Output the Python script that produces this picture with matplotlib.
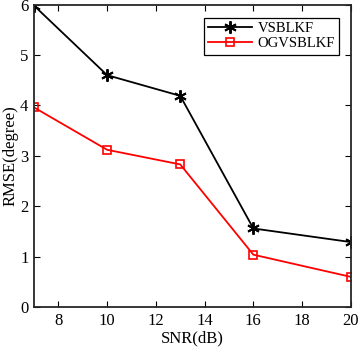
import numpy as np
import matplotlib.pyplot as plt

snr = [7, 10, 13, 16, 20]
vsblkf = [5.98, 4.60, 4.19, 1.56, 1.29]
ogvsblkf = [3.96, 3.12, 2.83, 1.04, 0.60]

plt.rcParams['font.family'] = 'Liberation Serif'
plt.rcParams['font.size'] = 12

fig = plt.figure(figsize=(3.58, 3.51), dpi=100)
ax = fig.add_axes([0.095, 0.125, 0.885, 0.862])

ax.plot(snr, vsblkf, color='black', lw=1.3, marker=(6, 2, 0), ms=9, mew=1.4, label='VSBLKF')
ax.plot(snr, ogvsblkf, color='red', lw=1.3, marker='s', ms=6, mfc='none', mew=1.2, label='OGVSBLKF')

ax.set_xlim(7, 20)
ax.set_ylim(0, 6)
ax.set_xticks([8, 10, 12, 14, 16, 18, 20])
ax.set_yticks([0, 1, 2, 3, 4, 5, 6])
ax.tick_params(direction='in', top=True, right=True, length=4, width=0.8, pad=4)
for s in ax.spines.values():
    s.set_linewidth(1.3)
    s.set_color('#262626')
ax.set_xlabel('SNR(dB)', labelpad=1)
ax.set_ylabel('RMSE(degree)', labelpad=1)

leg = ax.legend(loc='upper right', fancybox=False, edgecolor='black', framealpha=1,
                fontsize=10.5, borderpad=0.3, handlelength=3.0, handletextpad=0.4,
                labelspacing=0.12, bbox_to_anchor=(0.987, 0.98))
leg.get_frame().set_linewidth(0.9)

fig.savefig('out.png', dpi=100)
